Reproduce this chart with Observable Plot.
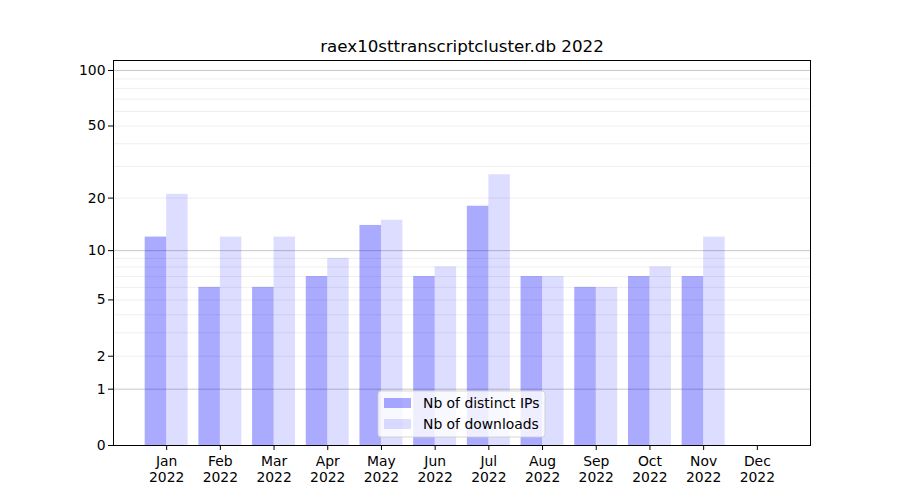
<!DOCTYPE html>
<html>
<head>
<meta charset="utf-8">
<script src="https://cdn.jsdelivr.net/npm/d3@7"></script>
<script src="https://cdn.jsdelivr.net/npm/@observablehq/plot@0.6"></script>
<style>
  html, body { margin: 0; padding: 0; background: #fff; }
  svg { font-family: "DejaVu Sans", sans-serif; }
</style>
</head>
<body>
<div id="chart"></div>
<script>
const title = "raex10sttranscriptcluster.db 2022";
const months = ["Jan","Feb","Mar","Apr","May","Jun","Jul","Aug","Sep","Oct","Nov","Dec"];
const year = "2022";
const distinctIPs = [12, 6, 6, 7, 14, 7, 18, 7, 6, 7, 7, 0];
const downloads   = [21, 12, 12, 9, 15, 8, 27, 7, 6, 8, 12, 0];
const yTicks = [0, 1, 2, 5, 10, 20, 50, 100];
const majorGrid = [1, 10, 100];
const minorGrid = [2,3,4,5,6,7,8,9,20,30,40,50,60,70,80,90];
const seriesNames = ["Nb of distinct IPs", "Nb of downloads"];

const W = 900, H = 500, mL = 113, mR = 90, mT = 60, mB = 55;
const fs = 13.9;
const barW = 0.4;

const ipData = distinctIPs.map((v, i) => ({i, v}));
const dlData = downloads.map((v, i) => ({i, v}));

const plot = Plot.plot({
  width: W, height: H,
  marginLeft: mL, marginRight: mR, marginTop: mT, marginBottom: mB,
  style: {fontFamily: "DejaVu Sans, sans-serif", fontSize: fs + "px", color: "black", background: "white"},
  x: {type: "linear", domain: [-0.99, 11.99]},
  y: {type: "symlog", constant: 1, domain: [0, 113.2]},
  marks: [
    Plot.ruleY(minorGrid, {stroke: "#ebebeb", strokeWidth: 0.8}),
    Plot.ruleY(majorGrid, {stroke: "#c8c8c8", strokeWidth: 1}),
    Plot.rectY(ipData, {x1: d => d.i - barW, x2: d => d.i, y1: 0, y2: "v", fill: "blue", fillOpacity: 0.333}),
    Plot.rectY(dlData, {x1: d => d.i, x2: d => d.i + barW, y1: 0, y2: "v", fill: "blue", fillOpacity: 0.133}),
    Plot.frame({stroke: "black", strokeWidth: 1}),
    Plot.axisY({ticks: yTicks, tickFormat: d => String(d), tickSize: 5, tickPadding: 3, label: null, fontSize: fs}),
    Plot.axisX({ticks: d3.range(months.length), tickFormat: i => months[i] + "\n" + year, tickSize: 5, tickPadding: 4, label: null, lineHeight: 1.15, fontSize: fs}),
    Plot.text([title], {frameAnchor: "top", dy: -20, fontSize: 16.7, fill: "black"})
  ]
});

document.getElementById("chart").appendChild(plot);

// legend (lower center, inside plot area)
const svg = d3.select(plot);
const cx = (mL + W - mR) / 2;
const lw = 167, lh = 46;
const lx = cx - lw / 2, ly = (H - mB) - 8 - lh;
const g = svg.append("g").attr("text-anchor", "start");
g.append("rect").attr("x", lx).attr("y", ly).attr("width", lw).attr("height", lh)
  .attr("rx", 3).style("fill", "white").style("fill-opacity", 0.8)
  .style("stroke", "#cccccc").style("stroke-opacity", 0.8);
const opac = [0.333, 0.133];
seriesNames.forEach((name, k) => {
  const yy = ly + 7 + k * 21;
  g.append("rect").attr("x", lx + 6).attr("y", yy).attr("width", 27).attr("height", 10)
    .style("fill", "blue").style("fill-opacity", opac[k]).style("stroke", "none");
  g.append("text").attr("x", lx + 45).attr("y", yy + 5).attr("dy", "0.35em")
    .style("text-anchor", "start").style("font-size", fs + "px").style("fill", "black").text(name);
});
</script>
</body>
</html>
